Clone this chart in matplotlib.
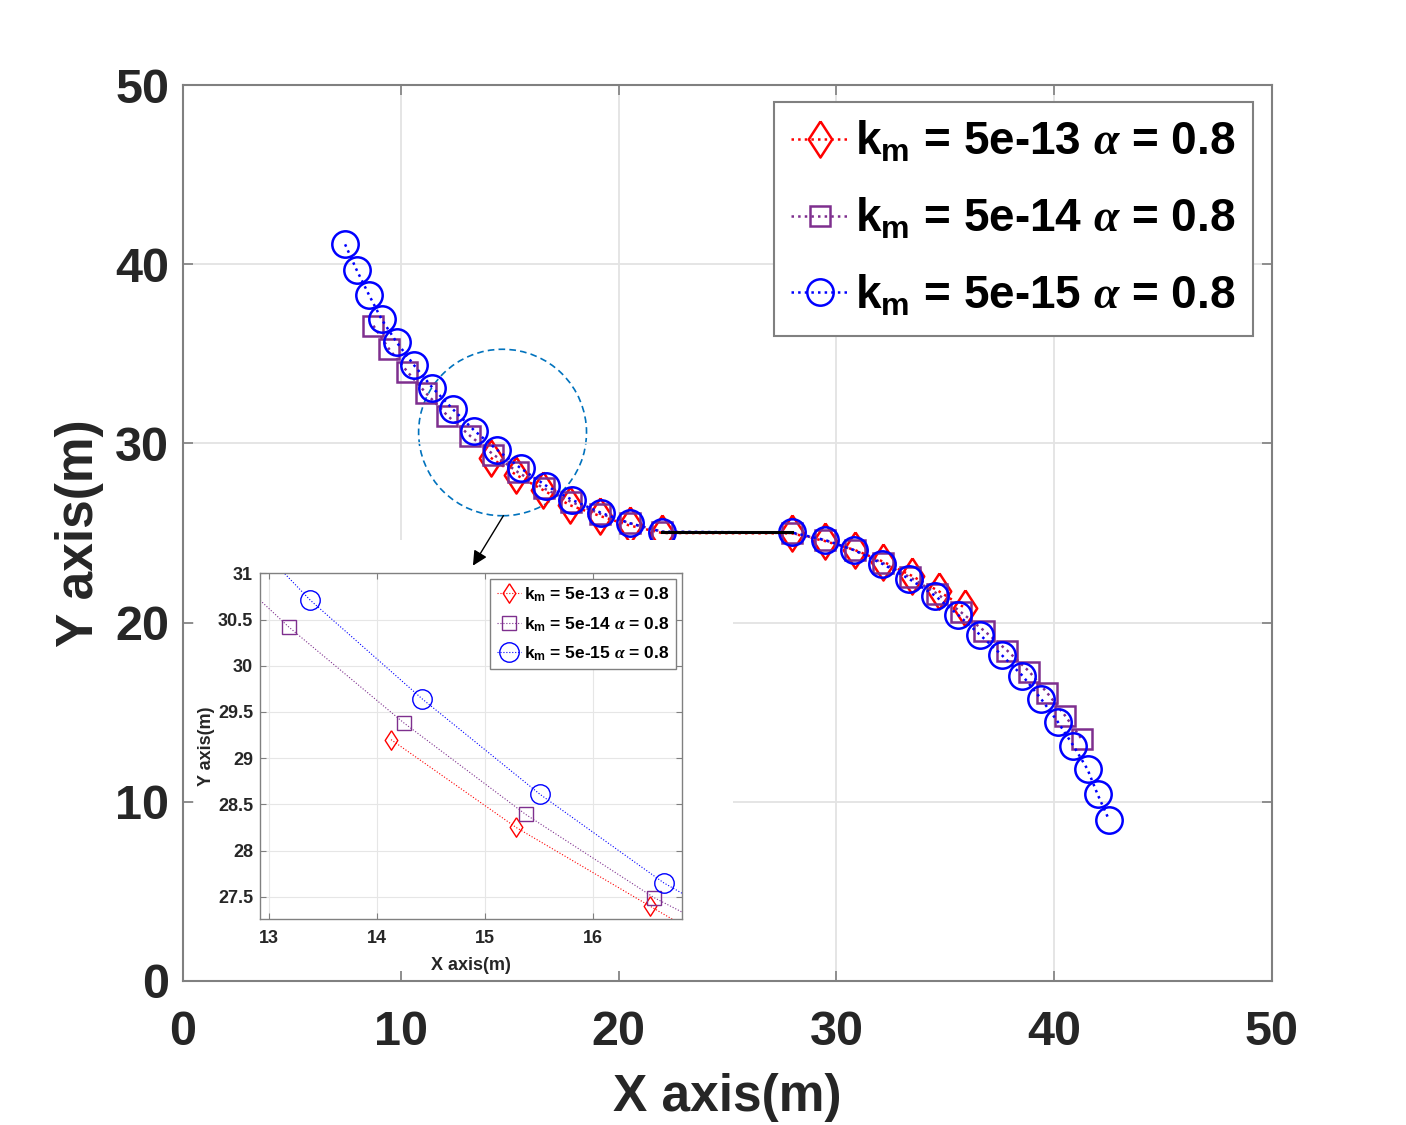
import matplotlib
matplotlib.use('Agg')
import matplotlib.pyplot as plt
from matplotlib.patches import Ellipse, Rectangle, FancyArrowPatch
from matplotlib.ticker import FuncFormatter

plt.rcParams['font.family'] = ['Liberation Sans', 'DejaVu Sans']
plt.rcParams['font.weight'] = 'bold'
plt.rcParams['axes.labelweight'] = 'bold'
plt.rcParams['mathtext.fontset'] = 'custom'
plt.rcParams['mathtext.rm'] = 'Liberation Sans:bold'
plt.rcParams['mathtext.bf'] = 'Liberation Sans:bold'
plt.rcParams['mathtext.it'] = 'Liberation Serif:italic'

# trajectories (m)
red_x = [14.13, 15.29, 16.53, 17.77, 19.15, 20.50, 22.00,
         27.95, 29.48, 30.85, 32.15, 33.45, 34.69, 35.90]
red_y = [29.20, 28.25, 27.40, 26.55, 25.95, 25.42, 25.00,
         24.98, 24.55, 24.05, 23.40, 22.62, 21.76, 20.82]

purple_x = [8.74, 9.47, 10.30, 11.16, 12.14, 13.18, 14.25, 15.38, 16.57, 17.80, 19.13, 20.52, 22.00,
            27.95, 29.48, 30.83, 32.13, 33.40, 34.62, 35.70, 36.78, 37.85, 38.86, 39.67, 40.51, 41.26]
purple_y = [36.57, 35.25, 34.00, 32.80, 31.55, 30.42, 29.38, 28.39, 27.49, 26.75, 26.08, 25.55, 25.07,
            25.00, 24.60, 24.04, 23.33, 22.52, 21.62, 20.60, 19.55, 18.43, 17.26, 16.09, 14.79, 13.50]

blue_x = [7.44, 7.97, 8.54, 9.12, 9.81, 10.61, 11.45, 12.38, 13.38, 14.42, 15.51, 16.66, 17.88, 19.19, 20.52, 22.01,
          27.95, 29.48, 30.82, 32.11, 33.35, 34.52, 35.60, 36.60, 37.59, 38.54, 39.40, 40.16, 40.88, 41.53, 41.99, 42.52]
blue_y = [41.11, 39.68, 38.28, 36.92, 35.64, 34.36, 33.11, 31.92, 30.71, 29.64, 28.61, 27.65, 26.84, 26.13, 25.54, 25.07,
          25.03, 24.61, 24.04, 23.28, 22.43, 21.51, 20.42, 19.31, 18.19, 17.04, 15.74, 14.47, 13.13, 11.81, 10.42, 8.98]

link_x = [22.0, 27.95]
link_y = [25.05, 25.05]

labels = [r'$\mathrm{k_m}$ = 5e-13 $\alpha$ = 0.8',
          r'$\mathrm{k_m}$ = 5e-14 $\alpha$ = 0.8',
          r'$\mathrm{k_m}$ = 5e-15 $\alpha$ = 0.8']
main_ticks = [0, 10, 20, 30, 40, 50]
inset_xticks = [13, 14, 15, 16]
inset_yticks = [27.5, 28, 28.5, 29, 29.5, 30, 30.5, 31]

# matlab style diamond (taller than wide)
diamond = [(0, 1), (0.65, 0), (0, -1), (-0.65, 0), (0, 1)]

series = [(red_x, red_y), (purple_x, purple_y), (blue_x, blue_y)]
colors = ['#FF0000', '#7E2F8E', '#0000FF']
markers = [diamond, 's', 'o']
big_ms = [26, 15, 19]
small_ms = [14, 9.5, 14]

GRAY = '#808080'
TXT = '#262626'

fig = plt.figure(figsize=(14.06, 11.25), dpi=100)

# main axes
ax = fig.add_axes([0.1302, 0.128, 0.7745, 0.7964], zorder=0)
for (xs, ys), c, m, ms, lab in zip(series, colors, markers, big_ms, labels):
    ax.plot(xs, ys, ls=':', lw=1.8, color=c, marker=m, ms=ms,
            mfc='none', mec=c, mew=1.8, label=lab)
ax.plot(link_x, link_y, color='k', lw=2.2)

ax.add_patch(Ellipse((14.67, 30.61), 7.71, 9.29, fill=False, ls=(0, (4, 2.5)),
                     lw=1.2, ec='#0072BD'))

ax.set_xlim(0, 50)
ax.set_ylim(0, 50)
ax.set_xticks(main_ticks)
ax.set_yticks(main_ticks)
ax.grid(True, color='#e3e3e3', lw=1.3)
ax.tick_params(direction='in', length=7, width=1.2, color=GRAY, labelcolor=TXT,
               labelsize=35, top=True, right=True)
ax.tick_params(axis='x', pad=21)
ax.tick_params(axis='y', pad=10)
for sp in ax.spines.values():
    sp.set_color(GRAY)
    sp.set_linewidth(1.5)
ax.set_xlabel('X axis(m)', fontsize=37, color=TXT, labelpad=13)
ax.set_ylabel('Y axis(m)', fontsize=37, color=TXT, labelpad=8)

leg = ax.legend(loc='upper right', bbox_to_anchor=(0.9826, 0.981), borderaxespad=0,
                fontsize=33, handlelength=1.25, handletextpad=0.15, labelspacing=0.68,
                borderpad=0.38, fancybox=False, framealpha=1, edgecolor=GRAY)
leg.get_frame().set_linewidth(1.5)

# white backing of the zoomed view
fig.add_artist(Rectangle((194 / 1406, 1 - 971 / 1125), 539 / 1406, 431 / 1125,
                         transform=fig.transFigure, fc='white', ec='none', zorder=1))

fig.add_artist(FancyArrowPatch((14.71, 25.97), (13.31, 23.18), transform=ax.transData,
                               arrowstyle='-|>', mutation_scale=22, lw=1, color='k',
                               shrinkA=0, shrinkB=0, zorder=3))

# zoomed view
ins = fig.add_axes([0.1849, 0.1828, 0.2999, 0.3076], zorder=2)
for (xs, ys), c, m, ms, lab in zip(series, colors, markers, small_ms, labels):
    ins.plot(xs, ys, ls=':', lw=0.8, color=c, marker=m, ms=ms,
             mfc='none', mec=c, mew=1.0, label=lab)
ins.set_xlim(12.914, 16.826)
ins.set_ylim(27.255, 31)
ins.set_xticks(inset_xticks)
ins.set_yticks(inset_yticks)
ins.yaxis.set_major_formatter(FuncFormatter(lambda v, p: f'{v:g}'))
ins.grid(True, color='#e6e6e6', lw=0.8)
ins.tick_params(direction='in', length=4, width=0.8, color=GRAY, labelcolor=TXT,
                labelsize=13, top=True, right=True)
ins.tick_params(axis='x', pad=8)
ins.tick_params(axis='y', pad=5)
for sp in ins.spines.values():
    sp.set_color(GRAY)
    sp.set_linewidth(1.0)
ins.set_xlabel('X axis(m)', fontsize=13, color=TXT, labelpad=7)
ins.set_ylabel('Y axis(m)', fontsize=13, color=TXT, labelpad=2)
lg2 = ins.legend(loc='upper right', borderaxespad=0.35, fontsize=12.5, handlelength=1.4,
                 handletextpad=0.2, labelspacing=0.62, borderpad=0.35, fancybox=False,
                 framealpha=1, edgecolor=GRAY)
lg2.get_frame().set_linewidth(1.0)

fig.savefig('out.png', dpi=100, facecolor='white')
